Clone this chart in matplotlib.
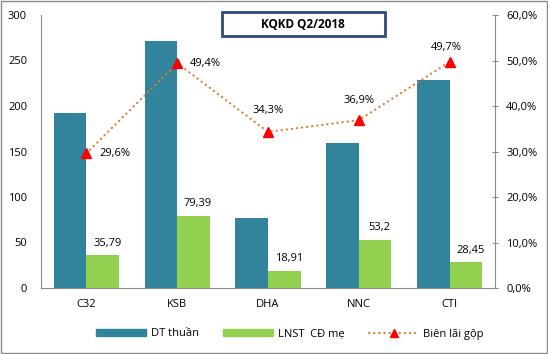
import matplotlib
matplotlib.use('Agg')
import matplotlib.pyplot as plt
from matplotlib.patches import Rectangle
from matplotlib.lines import Line2D
import numpy as np

plt.rcParams['font.family'] = ['Open Sans', 'DejaVu Sans']

categories = ["C32", "KSB", "DHA", "NNC", "CTI"]
dt_thuan = [192, 271, 77, 159, 229]
lnst = [35.79, 79.39, 18.91, 53.2, 28.45]
lnst_labels = ["35,79", "79,39", "18,91", "53,2", "28,45"]
bien_lai = [29.6, 49.4, 34.3, 36.9, 49.7]
bien_labels = ["29,6%", "49,4%", "34,3%", "36,9%", "49,7%"]

BLUE = '#31849B'
GREEN = '#92D050'
ORANGE = '#E07B30'
GRAY = '#8C8C8C'
DOTS = (0, (0.1, 2.2))

fig = plt.figure(figsize=(5.48, 3.54), dpi=100)
ax = fig.add_axes([41 / 548, 1 - 288 / 354, (495 - 41) / 548, (288 - 15) / 354])

x = np.arange(len(categories))
w = 0.36
ax.bar(x - w / 2, dt_thuan, width=w, color=BLUE, label='DT thuần')
ax.bar(x + w / 2, lnst, width=w, color=GREEN, label='LNST  CĐ mẹ')
for xi, v, lab in zip(x, lnst, lnst_labels):
    ax.text(xi + w / 2 + 0.05, v + 7, lab, ha='center', va='bottom', fontsize=8)

ax.set_xlim(-0.5, len(categories) - 0.5)
ax.set_ylim(0, 300)
ax.set_yticks(range(0, 301, 50))
ax.set_xticks(x)
ax.set_xticklabels(categories)
ax.tick_params(axis='both', length=0, labelsize=8, pad=10)
ax.tick_params(axis='x', pad=8)
for s in ['top', 'right']:
    ax.spines[s].set_visible(False)
for s in ['left', 'bottom']:
    ax.spines[s].set_color(GRAY)

ax2 = ax.twinx()
ax2.plot(x, bien_lai, linestyle=DOTS, dash_capstyle='round', color=ORANGE, linewidth=1.6,
         marker='^', markersize=7, markerfacecolor='red', markeredgecolor='red')
ax2.set_ylim(0, 60)
ax2.set_yticks(range(0, 61, 10))
ax2.set_yticklabels([f"{t},0%" for t in range(0, 61, 10)])
ax2.tick_params(axis='y', length=4, direction='inout', color=GRAY, labelsize=8, pad=6)
for s in ['top', 'left', 'bottom']:
    ax2.spines[s].set_visible(False)
ax2.spines['right'].set_color(GRAY)

# percentage labels: first two to the right, the rest above
offsets = [(0.14, 0, 'left', 'center'), (0.14, 0, 'left', 'center'),
           (0.0, 3.5, 'center', 'bottom'), (0.0, 3.0, 'center', 'bottom'),
           (-0.04, 2.0, 'center', 'bottom')]
for xi, v, lab, (dx, dy, ha, va) in zip(x, bien_lai, bien_labels, offsets):
    ax2.text(xi + dx, v + dy, lab, ha=ha, va=va, fontsize=8)

# title box
fig.text(303 / 548, 1 - 24 / 354, "KQKD Q2/2018", ha='center', va='center',
         fontsize=8.5, fontweight='bold')
fig.patches.append(Rectangle((222 / 548, 1 - 36 / 354), (385 - 222) / 548, 24 / 354,
                             transform=fig.transFigure, fill=False,
                             edgecolor='#2F4B7C', linewidth=2))

# figure border
fig.patches.append(Rectangle((0.001, 0.002), 0.997, 0.995, transform=fig.transFigure,
                             fill=False, edgecolor=GRAY, linewidth=1))

handles = [Rectangle((0, 0), 1, 1, color=BLUE),
           Rectangle((0, 0), 1, 1, color=GREEN),
           Line2D([], [], linestyle=DOTS, dash_capstyle='round', color=ORANGE, linewidth=1.6,
                  marker='^', markersize=6, markerfacecolor='red', markeredgecolor='red')]
fig.legend(handles, ['DT thuần', 'LNST  CĐ mẹ', 'Biên lãi gộp'],
           loc='center', bbox_to_anchor=(290 / 548, 1 - 334 / 354), ncol=3,
           frameon=False, fontsize=8, handlelength=4.5, handleheight=0.6,
           columnspacing=2.2, handletextpad=0.4)

fig.savefig('out.png', dpi=100)
